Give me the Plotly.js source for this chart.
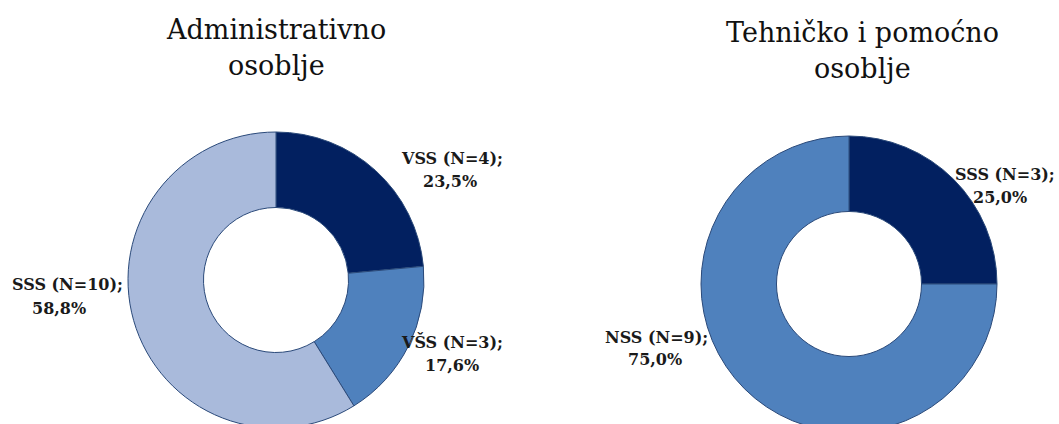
<!DOCTYPE html>
<html>
<head>
<meta charset="utf-8">
<script src="https://cdn.plot.ly/plotly-3.0.1.min.js"></script>
<style>
html,body{margin:0;padding:0;overflow:hidden;background:#fff;}
#chart{width:1059px;height:440px;}
</style>
</head>
<body>
<div id="chart"></div>
<script>
// ---- data ----
const leftTitleLines = ['Administrativno', 'osoblje'];
const leftLabels = ['VSS', 'VŠS', 'SSS'];
const leftCounts = [4, 3, 10];
const rightTitleLines = ['Tehničko i pomoćno', 'osoblje'];
const rightLabels = ['SSS', 'NSS'];
const rightCounts = [3, 9];

// ---- styles ----
const leftColors = ['#022060', '#4f81bd', '#a9badb'];
const rightColors = ['#022060', '#4f81bd'];
const W = 1059, H = 440;
const serif = 'DejaVu Serif, Liberation Serif, serif';

function px2x(p){ return p / W; }
function px2y(p){ return 1 - p / H; }

function pieTrace(labels, values, colors, cx, cy, r){
  return {
    type: 'pie',
    labels: labels,
    values: values,
    sort: false,
    direction: 'clockwise',
    rotation: 0,
    hole: 0.49,
    textinfo: 'none',
    hoverinfo: 'label+value+percent',
    marker: {colors: colors, line: {color: '#2b4a7a', width: 1}},
    domain: {x: [px2x(cx - r), px2x(cx + r)], y: [px2y(cy + r), px2y(cy - r)]},
    showlegend: false
  };
}

function pctText(n, total){
  return (n / total * 100).toFixed(1).replace('.', ',') + '%';
}

function textAnn(text, x, y, size, bold){
  return {
    xref: 'paper', yref: 'paper', x: px2x(x), y: px2y(y),
    xanchor: 'center', yanchor: 'middle', showarrow: false,
    text: bold ? '<b>' + text + '</b>' : text,
    font: {family: serif, size: size, color: bold ? '#1a1a1a' : '#111'}
  };
}

// positions: [line1 x, line1 y, line2 x, line2 y]
function labelAnns(labels, counts, positions){
  const total = counts.reduce((a, b) => a + b, 0);
  const out = [];
  labels.forEach((lab, i) => {
    const p = positions[i];
    out.push(textAnn(lab + ' (N=' + counts[i] + ');', p[0], p[1], 16, true));
    out.push(textAnn(pctText(counts[i], total), p[2], p[3], 16, true));
  });
  return out;
}

const leftPos = [[452, 158, 450, 182], [452, 342, 452, 365], [67, 284, 59, 308]];
const rightPos = [[1005, 174, 1000, 198], [656, 337, 655, 359]];

const annotations = [
  textAnn(leftTitleLines[0], 276, 29.5, 27, false),
  textAnn(leftTitleLines[1], 276, 65.5, 27, false),
  textAnn(rightTitleLines[0], 862, 32.5, 27, false),
  textAnn(rightTitleLines[1], 862, 68.5, 27, false)
].concat(labelAnns(leftLabels, leftCounts, leftPos), labelAnns(rightLabels, rightCounts, rightPos));

const data = [
  pieTrace(leftLabels, leftCounts, leftColors, 276, 280, 148),
  pieTrace(rightLabels, rightCounts, rightColors, 849, 284, 148)
];

const layout = {
  width: W, height: H,
  margin: {l: 0, r: 0, t: 0, b: 0},
  paper_bgcolor: '#ffffff',
  plot_bgcolor: '#ffffff',
  annotations: annotations,
  showlegend: false
};

Plotly.newPlot('chart', data, layout, {displayModeBar: false, staticPlot: true});
</script>
</body>
</html>
